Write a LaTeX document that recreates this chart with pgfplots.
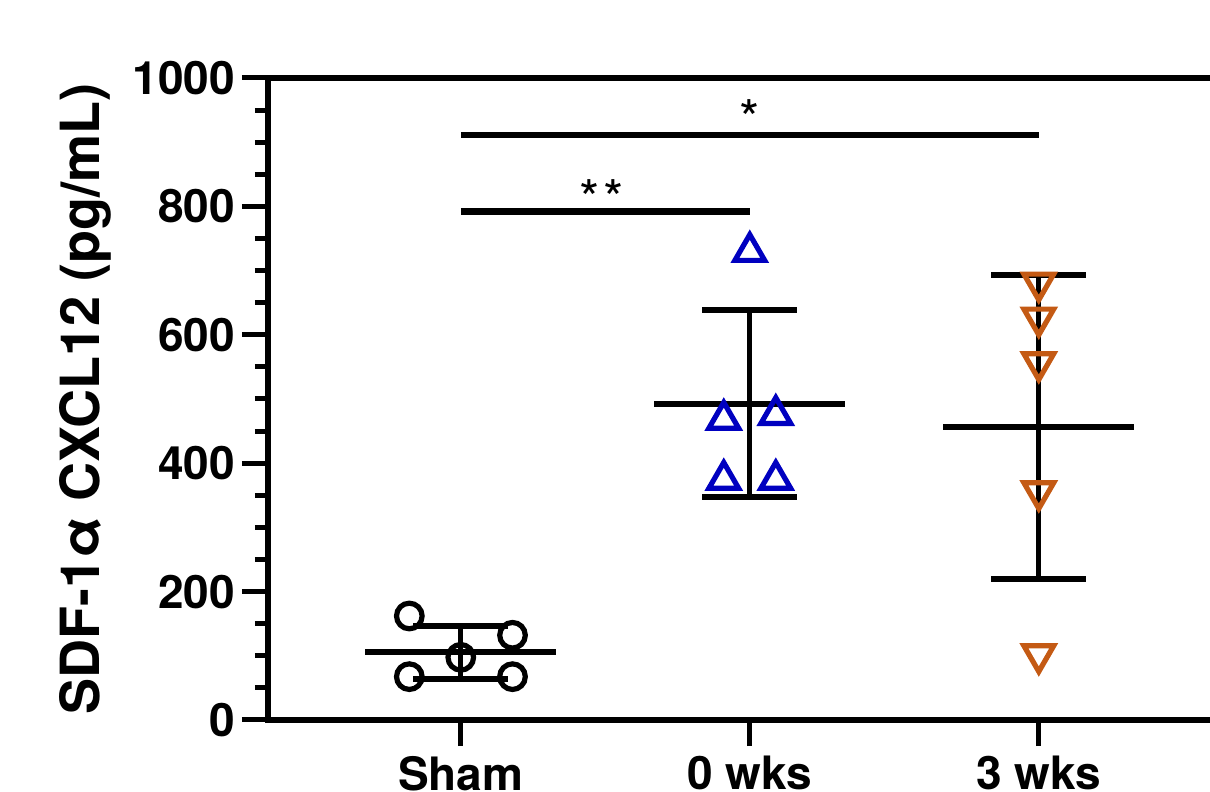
\documentclass[border=0pt]{standalone}
\usepackage{fontspec}
\setmainfont{TeX Gyre Heros}
\usepackage{pgfplots}
\pgfplotsset{compat=1.18}
\definecolor{gblue}{RGB}{0,0,192}
\definecolor{gorange}{RGB}{196,90,20}

\begin{document}
\begin{tikzpicture}
\path[use as bounding box] (-134pt,-36pt) rectangle (471pt,360pt);
\clip (-134pt,-36pt) rectangle (471pt,360pt);
\begin{axis}[
  scale only axis, width=501pt, height=321pt,
  xmin=0.333, xmax=3.8, ymin=0, ymax=1000,
  axis line style={line width=3pt},
  xtick={1,2,3}, xticklabels={Sham, 0 wks, 3 wks},
  ytick={0,200,...,1000}, minor y tick num=3,
  xtick pos=left, ytick pos=left, tick align=outside,
  major tick length=13pt, minor tick length=6.5pt,
  every tick/.style={line width=2.5pt, black},
  tick label style={font=\fontsize{23}{23}\selectfont\bfseries},
  xticklabel style={yshift=-1.5pt},
  /pgf/number format/assume math mode=true,
  /pgf/number format/1000 sep={},
  ylabel={SDF-1α CXCL12 (pg/mL)},
  ylabel style={font=\fontsize{27}{27}\selectfont\bfseries, at={(axis description cs:-0.1677,0.5)}, anchor=base},
  clip=false,
]
% Sham: mean +- SD
\addplot[line width=2.7pt, black] coordinates {(1,63.9) (1,146.7)};
\addplot[line width=3pt, black] coordinates {(0.835,146.7) (1.165,146.7)};
\addplot[line width=3pt, black] coordinates {(0.835,63.9) (1.165,63.9)};
\addplot[line width=3pt, black] coordinates {(0.67,105.3) (1.33,105.3)};
% 0 wks
\addplot[line width=2.7pt, black] coordinates {(2,347.5) (2,638.3)};
\addplot[line width=3pt, black] coordinates {(1.835,638.3) (2.165,638.3)};
\addplot[line width=3pt, black] coordinates {(1.835,347.5) (2.165,347.5)};
\addplot[line width=3pt, black] coordinates {(1.67,492.9) (2.33,492.9)};
% 3 wks
\addplot[line width=2.7pt, black] coordinates {(3,218.9) (3,692.9)};
\addplot[line width=3pt, black] coordinates {(2.835,692.9) (3.165,692.9)};
\addplot[line width=3pt, black] coordinates {(2.835,218.9) (3.165,218.9)};
\addplot[line width=3pt, black] coordinates {(2.67,455.9) (3.33,455.9)};
% individual points
\addplot[only marks, black, mark=o, mark size=6.4pt, mark options={line width=2.6pt}]
  coordinates {(0.822,162) (1.179,132) (1,97.6) (0.822,67.5) (1.179,67.5)};
\addplot[only marks, gblue, mark=triangle, mark size=8.6pt, mark options={line width=2.6pt, yshift=-2.8pt}]
  coordinates {(2,738) (1.91,476.6) (2.09,484) (1.91,383) (2.09,383)};
\addplot[only marks, gorange, mark=triangle, mark size=8.6pt, mark options={line width=2.6pt, yshift=2.8pt, rotate=180}]
  coordinates {(3,672.4) (3,617.9) (3,548.3) (3,347.4) (3,93.5)};
% significance bars
\addplot[line width=3.3pt, black] coordinates {(1,911) (3,911)};
\addplot[line width=3.3pt, black] coordinates {(1,792) (2,792)};
\node[font=\fontsize{26}{26}\selectfont, anchor=base, inner sep=0pt] at (axis cs:2,907.6) {*};
\node[font=\fontsize{26}{26}\selectfont, anchor=base, inner sep=0pt] at (axis cs:1.487,783) {*\kern2pt*};
\end{axis}
\end{tikzpicture}
\end{document}
